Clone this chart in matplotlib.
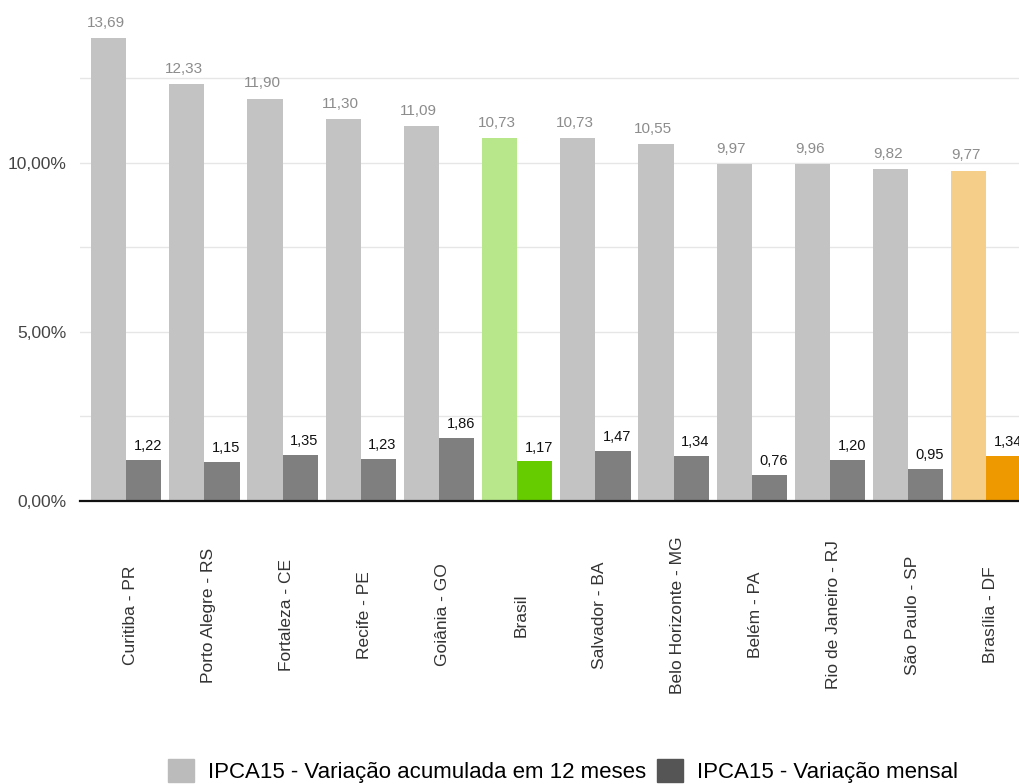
import matplotlib
matplotlib.use("Agg")
import matplotlib.pyplot as plt
import numpy as np
from matplotlib.patches import Patch
from matplotlib.ticker import MultipleLocator

plt.rcParams["font.family"] = ["Liberation Sans", "DejaVu Sans"]

cities = ["Curitiba - PR", "Porto Alegre - RS", "Fortaleza - CE", "Recife - PE",
          "Goiânia - GO", "Brasil", "Salvador - BA", "Belo Horizonte - MG",
          "Belém - PA", "Rio de Janeiro - RJ", "São Paulo - SP", "Brasília - DF"]
acum_12m = [13.69, 12.33, 11.90, 11.30, 11.09, 10.73, 10.73, 10.55, 9.97, 9.96, 9.82, 9.77]
mensal = [1.22, 1.15, 1.35, 1.23, 1.86, 1.17, 1.47, 1.34, 0.76, 1.20, 0.95, 1.34]
y_ticks = [0, 5, 10]
legend_labels = ["IPCA15 - Variação acumulada em 12 meses", "IPCA15 - Variação mensal"]

light_colors = ["#c3c3c3"] * len(cities)
dark_colors = ["#7f7f7f"] * len(cities)
light_colors[cities.index("Brasil")] = "#b8e68a"
dark_colors[cities.index("Brasil")] = "#66cc00"
light_colors[cities.index("Brasília - DF")] = "#f5cf8a"
dark_colors[cities.index("Brasília - DF")] = "#ee9900"


def fmt(v):
    return f"{v:.2f}".replace(".", ",")


fig = plt.figure(figsize=(10.2, 7.84), dpi=100)
ax = fig.add_axes([80 / 1020, 283 / 784, 940 / 1020, 501 / 784])

x = np.arange(len(cities))
w = 0.45
ax.bar(x - w / 2, acum_12m, width=w, color=light_colors, zorder=2)
ax.bar(x + w / 2, mensal, width=w, color=dark_colors, zorder=2)

for xi, a, m in zip(x, acum_12m, mensal):
    ax.annotate(fmt(a), (xi - w / 2, a), xytext=(-2, 6), textcoords="offset points",
                ha="center", va="bottom", fontsize=11, color="#8c8c8c")
    ax.annotate(fmt(m), (xi + w / 2, m), xytext=(3, 5), textcoords="offset points",
                ha="center", va="bottom", fontsize=10.5, color="#111111")

ax.set_xlim(-0.59, 11.43)
ax.set_ylim(0, 14.82)
ax.yaxis.set_major_locator(MultipleLocator(2.5))
ax.set_yticks(np.arange(0, 15, 2.5))
ax.set_yticklabels([f"{t:.2f}%".replace(".", ",") if t in y_ticks else "" for t in np.arange(0, 15, 2.5)],
                   fontsize=12.5, color="#444444")
ax.tick_params(axis="y", length=0, pad=10)
ax.grid(axis="y", color="#e6e6e6", linewidth=1, zorder=0)
ax.set_xticks([])
for s in ["top", "right", "left"]:
    ax.spines[s].set_visible(False)
ax.spines["bottom"].set_linewidth(1.6)
ax.spines["bottom"].set_color("#111111")
ax.spines["bottom"].set_zorder(3)

for xi, name in zip(x, cities):
    ax.text(xi + 0.05, -0.2275, name, transform=ax.get_xaxis_transform(), rotation=90,
            ha="center", va="center", fontsize=12.5, color="#333333")

handles = [Patch(color="#bbbbbb"), Patch(color="#555555")]
fig.legend(handles, legend_labels, loc="center", bbox_to_anchor=(0.552, 0.0166), ncol=2,
           frameon=False, fontsize=16, handlelength=1.17, handleheight=1.26,
           handletextpad=0.63, columnspacing=0.45,
           prop={"family": ["Liberation Sans Narrow", "Liberation Sans"], "size": 16})

fig.savefig("out.png", dpi=100)
